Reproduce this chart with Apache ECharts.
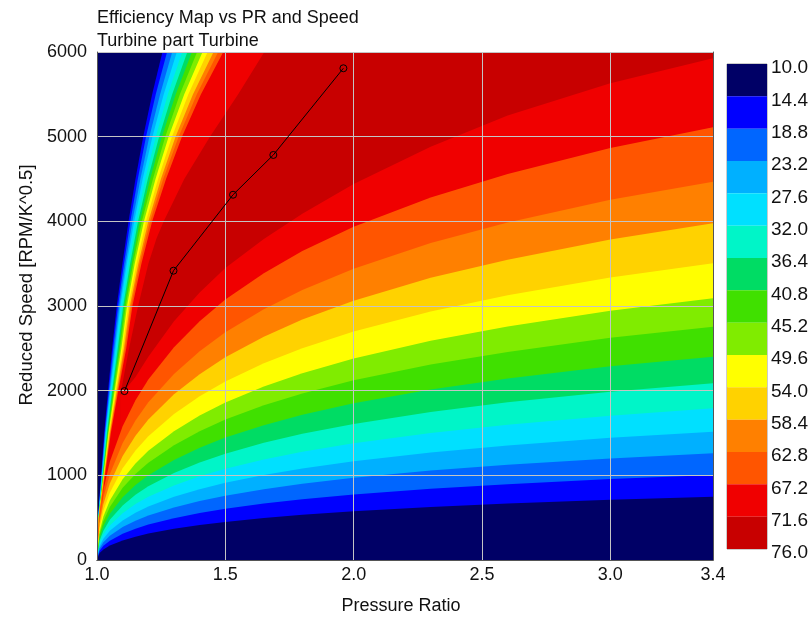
<!DOCTYPE html>
<html>
<head>
<meta charset="utf-8">
<script src="https://cdn.jsdelivr.net/npm/echarts@6/dist/echarts.min.js"></script>
<style>
  html, body { margin: 0; padding: 0; background: #fff; }
  #chart { width: 811px; height: 624px; }
</style>
</head>
<body>
<div id="chart"></div>
<script>
// Efficiency contour levels (colour bar boundaries)
const levels = [10.0, 14.4, 18.8, 23.2, 27.6, 32.0, 36.4, 40.8, 45.2, 49.6, 54.0, 58.4, 62.8, 67.2, 71.6, 76.0];

// Fill colour of each band between two consecutive levels
const bandColors = ['#000066', '#0000ff', '#0066ff', '#00b0ff', '#00e0ff', '#00f5c8', '#00dc64',
  '#40e000', '#80ec00', '#ffff00', '#ffd200', '#ff8000', '#ff5500', '#f00000', '#c80000'];

// Contour lines, low-speed side: [pressure ratio, reduced speed], one per level 14.4 ... 71.6
const lowerBranches = [
  [[1.0,0],[1.01,82],[1.025,124],[1.05,170],[1.1,231],[1.15,276],[1.2,312],[1.3,368],[1.4,413],[1.5,450],[1.65,496],[1.8,534],[2.0,576],[2.3,627],[2.6,667],[3.0,712],[3.4,748]],
  [[1.0,0],[1.01,109],[1.025,167],[1.05,228],[1.1,310],[1.15,370],[1.2,419],[1.3,494],[1.4,554],[1.5,604],[1.65,666],[1.8,717],[2.0,773],[2.3,841],[2.6,896],[3.0,956],[3.4,1004]],
  [[1.0,0],[1.01,137],[1.025,209],[1.05,286],[1.1,389],[1.15,465],[1.2,525],[1.3,620],[1.4,696],[1.5,759],[1.65,835],[1.8,900],[2.0,970],[2.3,1056],[2.6,1124],[3.0,1200],[3.4,1260]],
  [[1.0,0],[1.01,165],[1.025,252],[1.05,344],[1.1,468],[1.15,559],[1.2,632],[1.3,746],[1.4,837],[1.5,913],[1.65,1005],[1.8,1082],[2.0,1167],[2.3,1270],[2.6,1352],[3.0,1443],[3.4,1516]],
  [[1.0,0],[1.01,195],[1.025,297],[1.05,407],[1.1,553],[1.15,661],[1.2,747],[1.3,881],[1.4,989],[1.5,1078],[1.65,1187],[1.8,1279],[2.0,1379],[2.3,1501],[2.6,1598],[3.0,1705],[3.4,1791]],
  [[1.0,0],[1.01,227],[1.025,346],[1.05,474],[1.1,645],[1.15,770],[1.2,870],[1.3,1027],[1.4,1152],[1.5,1256],[1.65,1384],[1.8,1490],[2.0,1607],[2.3,1749],[2.6,1862],[3.0,1987],[3.4,2087]],
  [[1.0,0],[1.01,262],[1.025,399],[1.05,545],[1.1,742],[1.15,886],[1.2,1002],[1.3,1182],[1.4,1326],[1.5,1446],[1.65,1593],[1.8,1715],[2.0,1850],[2.3,2013],[2.6,2143],[3.0,2287],[3.4,2402]],
  [[1.0,0],[1.01,300],[1.025,457],[1.05,626],[1.1,852],[1.15,1017],[1.2,1149],[1.3,1356],[1.4,1521],[1.5,1659],[1.65,1827],[1.8,1968],[2.0,2122],[2.3,2310],[2.6,2458],[3.0,2624],[3.4,2756]],
  [[1.0,0],[1.01,337],[1.025,513],[1.05,702],[1.1,955],[1.15,1141],[1.2,1289],[1.3,1521],[1.4,1706],[1.5,1861],[1.65,2049],[1.8,2207],[2.0,2380],[2.3,2590],[2.6,2757],[3.0,2943],[3.4,3091]],
  [[1.0,0],[1.01,382],[1.025,582],[1.05,795],[1.1,1083],[1.15,1293],[1.2,1461],[1.3,1724],[1.4,1934],[1.5,2109],[1.65,2323],[1.8,2502],[2.0,2698],[2.3,2936],[2.6,3126],[3.0,3336],[3.4,3504]],
  [[1.0,0],[1.01,433],[1.025,660],[1.05,903],[1.1,1229],[1.15,1468],[1.2,1658],[1.3,1957],[1.4,2195],[1.5,2394],[1.65,2637],[1.8,2840],[2.0,3062],[2.3,3333],[2.6,3547],[3.0,3786],[3.4,3977]],
  [[1.0,0],[1.01,487],[1.025,742],[1.05,1014],[1.1,1381],[1.15,1649],[1.2,1863],[1.3,2198],[1.4,2466],[1.5,2690],[1.65,2962],[1.8,3190],[2.0,3440],[2.3,3744],[2.6,3985],[3.0,4254],[3.4,4468]],
  [[1.02,700],[1.025,830],[1.05,1160],[1.1,1579],[1.15,1886],[1.2,2131],[1.3,2514],[1.4,2821],[1.5,3076],[1.65,3388],[1.8,3649],[2.0,3935],[2.3,4282],[2.6,4558],[3.0,4865],[3.4,5110]],
  [[1.09,1950],[1.1,1975],[1.15,2160],[1.2,2400],[1.3,2820],[1.4,3160],[1.5,3450],[1.65,3790],[1.8,4090],[2.0,4440],[2.3,4880],[2.6,5250],[3.0,5630],[3.4,5925]]
];

// Contour lines, low-pressure-ratio side: [pressure ratio, reduced speed], one per level 14.4 ... 71.6
const upperBranches = [
  [[1.0,0],[1.004,500],[1.016,1000],[1.028,1500],[1.043,2000],[1.059,2500],[1.077,3000],[1.099,3500],[1.123,4000],[1.150,4500],[1.180,5000],[1.215,5500],[1.255,6000]],
  [[1.0,0],[1.004,500],[1.017,1000],[1.030,1500],[1.046,2000],[1.063,2500],[1.082,3000],[1.105,3500],[1.130,4000],[1.159,4500],[1.191,5000],[1.229,5500],[1.273,6000]],
  [[1.0,0],[1.005,500],[1.018,1000],[1.032,1500],[1.049,2000],[1.068,2500],[1.087,3000],[1.111,3500],[1.138,4000],[1.169,4500],[1.204,5000],[1.246,5500],[1.293,6000]],
  [[1.0,0],[1.005,500],[1.020,1000],[1.034,1500],[1.052,2000],[1.072,2500],[1.091,3000],[1.116,3500],[1.145,4000],[1.178,4500],[1.216,5000],[1.260,5500],[1.311,6000]],
  [[1.0,0],[1.005,500],[1.021,1000],[1.036,1500],[1.056,2000],[1.077,2500],[1.097,3000],[1.123,3500],[1.153,4000],[1.188,4500],[1.229,5000],[1.276,5500],[1.332,6000]],
  [[1.0,0],[1.006,500],[1.022,1000],[1.039,1500],[1.059,2000],[1.081,2500],[1.102,3000],[1.129,3500],[1.160,4000],[1.198,4500],[1.242,5000],[1.293,5500],[1.352,6000]],
  [[1.0,0],[1.006,500],[1.023,1000],[1.041,1500],[1.062,2000],[1.086,2500],[1.106,3000],[1.135,3500],[1.167,4000],[1.207,4500],[1.253,5000],[1.307,5500],[1.370,6000]],
  [[1.0,0],[1.006,500],[1.024,1000],[1.043,1500],[1.066,2000],[1.090,2500],[1.112,3000],[1.141,3500],[1.175,4000],[1.218,4500],[1.266,5000],[1.323,5500],[1.390,6000]],
  [[1.0,0],[1.006,500],[1.026,1000],[1.045,1500],[1.069,2000],[1.095,2500],[1.117,3000],[1.147,3500],[1.183,4000],[1.228,4500],[1.279,5000],[1.340,5500],[1.411,6000]],
  [[1.0,0],[1.007,500],[1.027,1000],[1.047,1500],[1.073,2000],[1.100,2500],[1.122,3000],[1.154,3500],[1.191,4000],[1.238,4500],[1.292,5000],[1.356,5500],[1.431,6000]],
  [[1.0,0],[1.007,500],[1.028,1000],[1.050,1500],[1.077,2000],[1.105,2500],[1.128,3000],[1.161,3500],[1.200,4000],[1.249,4500],[1.306,5000],[1.374,5500],[1.454,6000]],
  [[1.0,0],[1.007,500],[1.030,1000],[1.052,1500],[1.080,2000],[1.109,2500],[1.133,3000],[1.166,3500],[1.207,4000],[1.258,4500],[1.318,5000],[1.389,5500],[1.472,6000]],
  [[1.02,700],[1.031,1000],[1.054,1500],[1.083,2000],[1.114,2500],[1.138,3000],[1.173,3500],[1.215,4000],[1.269,4500],[1.331,5000],[1.405,5500],[1.492,6000]],
  [[1.09,1950],[1.10,2100],[1.125,2500],[1.16,3000],[1.20,3500],[1.232,3800],[1.26,4000],[1.34,4500],[1.44,5000],[1.55,5500],[1.652,6000]]
];

// Operating line
const opPressureRatio = [1.107, 1.298, 1.530, 1.687, 1.960];
const opSpeed = [1995, 3417, 4314, 4784, 5808];

// Axis ranges
const prRange = [1.0, 3.4];
const speedRange = [0, 6000];

const FONT = '"Liberation Sans", Arial, sans-serif';
const TEXT = '#111';
const chart = echarts.init(document.getElementById('chart'), null, { renderer: 'canvas' });

const areaSeries = (data, color) => ({
  type: 'line', xAxisIndex: 0, yAxisIndex: 0, data: data,
  smooth: false, symbol: 'none', silent: true, clip: true,
  lineStyle: { width: 0, opacity: 0 },
  areaStyle: { color: color, opacity: 1, origin: 'start' }
});

const series = [];
// Low-PR side: each contour filled down to the axis with the band lying inside it
upperBranches.forEach((branch, i) => {
  series.push(areaSeries(branch.concat([[prRange[1], speedRange[1]]]), bandColors[i + 1]));
});
// Low-speed side, from the highest level down
for (let i = lowerBranches.length - 1; i >= 0; i--) {
  series.push(areaSeries(lowerBranches[i], bandColors[i]));
}
// Operating line with open markers
series.push({
  type: 'line', xAxisIndex: 0, yAxisIndex: 0, z: 10,
  data: opPressureRatio.map((p, i) => [p, opSpeed[i]]),
  symbol: 'circle', symbolSize: 7, showSymbol: true,
  lineStyle: { color: '#000', width: 1 },
  itemStyle: { color: 'rgba(0,0,0,0)', borderColor: '#000', borderWidth: 1 }
});
// Colour bar: one stacked cell per band
bandColors.forEach((c, i) => {
  series.push({
    type: 'bar', xAxisIndex: 2, yAxisIndex: 2, stack: 'bar', data: [1],
    barWidth: '100%', silent: true, itemStyle: { color: c }
  });
});

const frameAxis = { show: true, lineStyle: { color: '#555', width: 1 } };

chart.setOption({
  animation: false,
  backgroundColor: '#fff',
  title: {
    text: 'Efficiency Map vs PR and Speed\nTurbine part Turbine',
    left: 92, top: 2,
    textStyle: { fontFamily: FONT, fontSize: 18, fontWeight: 'normal', color: TEXT, lineHeight: 23 }
  },
  grid: [
    { left: 97, right: 98, top: 52, bottom: 64, show: true, backgroundColor: bandColors[0], borderWidth: 0 },
    { left: 727, width: 41, top: 64, height: 485, show: true, borderColor: '#999', borderWidth: 1 }
  ],
  xAxis: [
    {
      gridIndex: 0, type: 'value', min: prRange[0], max: prRange[1], interval: 0.5, z: 5,
      name: 'Pressure Ratio', nameLocation: 'middle', nameGap: 37,
      nameTextStyle: { fontFamily: FONT, fontSize: 18, color: TEXT, padding: [0, 8, 0, 0] },
      axisLine: frameAxis,
      axisTick: { show: false },
      axisLabel: { fontFamily: FONT, fontSize: 18, color: TEXT, margin: 6, showMaxLabel: true,
        formatter: v => v.toFixed(1) },
      splitLine: { show: true, lineStyle: { color: '#c4c4c4', width: 1 } }
    },
    {
      gridIndex: 0, type: 'value', position: 'top', min: prRange[0], max: prRange[1], z: 5,
      axisLine: frameAxis, axisTick: { show: false }, axisLabel: { show: false }, splitLine: { show: false }
    },
    { gridIndex: 1, type: 'category', data: ['bar'], show: false }
  ],
  yAxis: [
    {
      gridIndex: 0, type: 'value', min: speedRange[0], max: speedRange[1], interval: 1000, z: 5,
      name: 'Reduced Speed [RPM/K^0.5]', nameLocation: 'middle', nameGap: 60,
      nameTextStyle: { fontFamily: FONT, fontSize: 18.5, color: TEXT, padding: [0, 0, 0, 42] },
      axisLine: frameAxis,
      axisTick: { show: false },
      axisLabel: { fontFamily: FONT, fontSize: 18, color: TEXT, margin: 10, formatter: v => String(v) },
      splitLine: { show: true, lineStyle: { color: '#c4c4c4', width: 1 } }
    },
    {
      gridIndex: 0, type: 'value', position: 'right', min: speedRange[0], max: speedRange[1], z: 5,
      axisLine: frameAxis, axisTick: { show: false }, axisLabel: { show: false }, splitLine: { show: false }
    },
    {
      gridIndex: 1, type: 'value', min: 0, max: levels.length - 1, interval: 1, inverse: true,
      position: 'right',
      axisLine: { show: false }, axisTick: { show: false }, splitLine: { show: false },
      axisLabel: { fontFamily: FONT, fontSize: 19, color: TEXT, margin: 4,
        verticalAlign: 'top', lineHeight: 8,
        formatter: v => levels[v].toFixed(1) }
    }
  ],
  series: series
});
</script>
</body>
</html>
